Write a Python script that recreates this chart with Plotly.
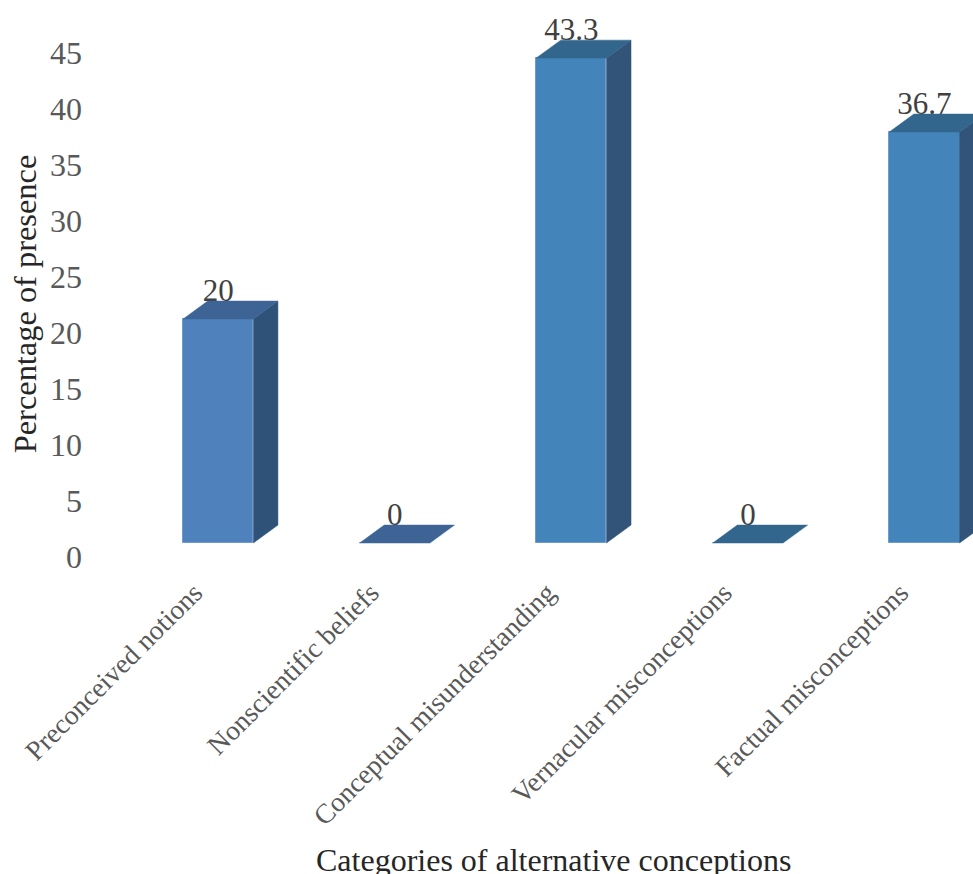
import plotly.graph_objects as go

categories = ["Preconceived notions", "Nonscientific beliefs", "Conceptual misunderstanding",
              "Vernacular misconceptions", "Factual misconceptions"]
values = [20, 0, 43.3, 0, 36.7]
value_labels = ["20", "0", "43.3", "0", "36.7"]
y_ticks = [0, 5, 10, 15, 20, 25, 30, 35, 40, 45]

front_colors = ["#4F81BD", "#4F81BD", "#4385BA", "#4385BA", "#4385BA"]
top_colors = ["#3D6494", "#3D6494", "#33668C", "#33668C", "#33668C"]
side_colors = ["#2F5278", "#2F5278", "#325478", "#325478", "#325478"]

FONT = "Liberation Serif"
BAR_WIDTH = 0.398   # in category units
DEPTH_X = 0.139     # oblique offset of the rear faces, category units
DEPTH_Y = 1.6       # oblique offset of the rear faces, percentage units

positions = list(range(len(categories)))
fig = go.Figure()

# Invisible series that keeps the labelled scale on the primary y axis
fig.add_trace(go.Scatter(x=[0] * len(y_ticks), y=y_ticks, mode="none",
                         showlegend=False, hoverinfo="skip", yaxis="y"))

# Value labels go first so the top faces sit over their lower edge
fig.add_trace(go.Scatter(x=positions, y=[v + DEPTH_Y - 0.65 for v in values], text=value_labels,
                         mode="text", textposition="top center", cliponaxis=False,
                         textfont=dict(family=FONT, size=31, color="#404040"),
                         showlegend=False, hoverinfo="skip", yaxis="y2"))

# Front faces
fig.add_trace(go.Bar(x=positions, y=values, width=BAR_WIDTH, yaxis="y2", showlegend=False,
                     marker=dict(color=front_colors, line=dict(color="#6E9AD0", width=1))))

# Side and top faces, derived from each bar's value
for p, v, top_c, side_c in zip(positions, values, top_colors, side_colors):
    left, right = p - BAR_WIDTH / 2, p + BAR_WIDTH / 2
    if v > 0:
        fig.add_trace(go.Scatter(
            x=[right, right + DEPTH_X, right + DEPTH_X, right, right],
            y=[0, DEPTH_Y, v + DEPTH_Y, v, 0],
            mode="lines", fill="toself", fillcolor=side_c, line=dict(color=side_c, width=0.5),
            showlegend=False, hoverinfo="skip", yaxis="y2"))
    fig.add_trace(go.Scatter(
        x=[left, left + DEPTH_X, right + DEPTH_X, right, left],
        y=[v, v + DEPTH_Y, v + DEPTH_Y, v, v],
        mode="lines", fill="toself", fillcolor=top_c, line=dict(color=top_c, width=0.5),
        showlegend=False, hoverinfo="skip", yaxis="y2"))

fig.update_layout(
    width=973, height=874,
    margin=dict(l=133, r=0, t=38, b=304, autoexpand=False),
    paper_bgcolor="white", plot_bgcolor="white",
    bargap=0, barmode="overlay",
    xaxis=dict(
        range=[-0.483, 4.275], tickvals=positions, ticktext=categories, tickangle=-45,
        showgrid=False, zeroline=False, showline=False, ticks="",
        ticklabelshift=-24,
        tickfont=dict(family=FONT, size=27.6, color="#595959"),
    ),
    yaxis=dict(
        range=[-1.16, 46.34], tickvals=y_ticks, showgrid=False, zeroline=False, showline=False,
        ticks="", ticklabelstandoff=50,
        tickfont=dict(family=FONT, size=32, color="#595959"),
        title=dict(text="Percentage of presence", standoff=3,
                   font=dict(family=FONT, size=32.4, color="#262626")),
    ),
    yaxis2=dict(range=[-2.41, 45.09], overlaying="y", visible=False),
    # Horizontal axis title, placed below the slanted category labels
    annotations=[dict(text="Categories of alternative conceptions", showarrow=False,
                      xref="paper", yref="paper", x=0.5, y=-0.545,
                      xanchor="center", yanchor="middle",
                      font=dict(family=FONT, size=32, color="#262626"))],
)

fig.write_html("out.html")
